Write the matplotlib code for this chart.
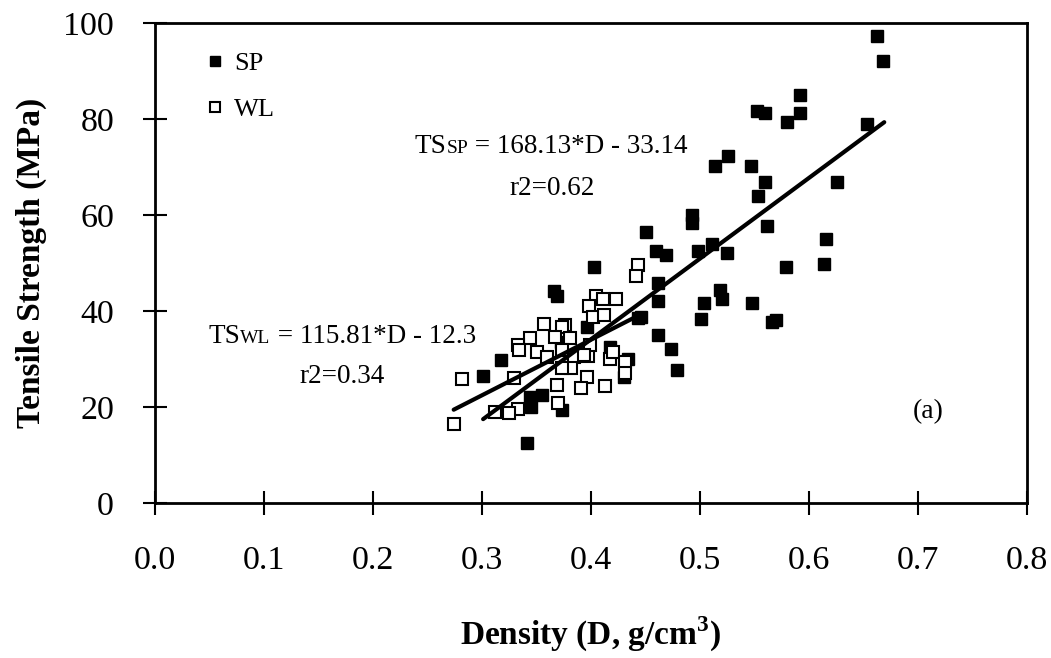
import numpy as np
import matplotlib
matplotlib.use('Agg')
import matplotlib.pyplot as plt

# Times-like font
plt.rcParams['font.family'] = 'Liberation Serif'
plt.rcParams['mathtext.fontset'] = 'custom'
plt.rcParams['mathtext.rm'] = 'Liberation Serif'
plt.rcParams['mathtext.bf'] = 'Liberation Serif:bold'

# data
sp_density = [0.662, 0.668, 0.592, 0.552, 0.560, 0.592, 0.580, 0.653, 0.526, 0.514,
              0.547, 0.560, 0.626, 0.553, 0.493, 0.493, 0.561, 0.450, 0.616, 0.511,
              0.460, 0.469, 0.498, 0.525, 0.403, 0.579, 0.614, 0.461, 0.518, 0.520,
              0.504, 0.548, 0.461, 0.501, 0.566, 0.570, 0.443, 0.446, 0.396, 0.461,
              0.473, 0.479, 0.417, 0.434, 0.430, 0.366, 0.369, 0.317, 0.301, 0.344,
              0.345, 0.355, 0.373, 0.341, 0.372]
sp_strength = [97.4, 92.1, 85.0, 81.7, 81.2, 81.2, 79.3, 78.9, 72.2, 70.3,
               70.3, 66.8, 66.8, 64.0, 60.0, 58.3, 57.8, 56.4, 54.9, 54.0,
               52.6, 51.7, 52.6, 52.0, 49.2, 49.2, 49.7, 45.9, 44.4, 42.4,
               41.6, 41.6, 42.1, 38.3, 37.8, 38.1, 38.6, 38.8, 36.6, 35.0,
               32.0, 27.7, 32.6, 30.1, 26.3, 44.2, 43.1, 29.8, 26.5, 22.1,
               20.1, 22.5, 19.4, 12.4, 33.5]

wl_density = [0.443, 0.441, 0.405, 0.411, 0.423, 0.398, 0.402, 0.412, 0.397, 0.417,
              0.420, 0.431, 0.431, 0.396, 0.413, 0.391, 0.399, 0.357, 0.376, 0.373,
              0.344, 0.333, 0.334, 0.350, 0.367, 0.381, 0.373, 0.360, 0.384, 0.394,
              0.382, 0.373, 0.329, 0.369, 0.370, 0.333, 0.325, 0.312, 0.282, 0.274]
wl_strength = [49.6, 47.3, 43.1, 42.5, 42.5, 41.1, 38.7, 39.2, 30.6, 30.1,
               31.5, 29.4, 27.1, 26.3, 24.4, 23.9, 32.9, 37.3, 37.1, 36.6,
               34.3, 32.9, 31.9, 31.5, 34.6, 34.3, 31.9, 30.4, 30.4, 30.8,
               28.1, 28.1, 26.0, 24.6, 20.8, 19.5, 18.7, 19.0, 25.8, 16.5]

# regression coefficients (slope, intercept) and fitted range
sp_fit = (168.13, -33.14)
wl_fit = (115.81, -12.3)
sp_range = (0.301, 0.669)
wl_range = (0.274, 0.443)

fig = plt.figure(figsize=(10.51, 6.58), dpi=100)
ax = fig.add_axes([0.1475, 0.2356, 0.8297, 0.7294])

ax.plot(sp_density, sp_strength, linestyle='none', marker='s', ms=9,
        mfc='black', mec='black', label='SP', zorder=3)
ax.plot(wl_density, wl_strength, linestyle='none', marker='s', ms=8.5,
        mfc='white', mec='black', mew=1.5, label='WL', zorder=3)

for (a, b), (x0, x1) in [(sp_fit, sp_range), (wl_fit, wl_range)]:
    xs = np.array([x0, x1])
    ax.plot(xs, a * xs + b, color='black', lw=3, solid_capstyle='round', zorder=4)

ax.set_xlim(0, 0.8)
ax.set_ylim(0, 100)
ax.set_xticks(np.arange(0, 0.81, 0.1))
ax.set_xticklabels(['%.1f' % v for v in np.arange(0, 0.81, 0.1)])
ax.set_yticks(np.arange(0, 101, 20))
ax.tick_params(direction='inout', length=17, width=1.5, labelsize=24.5)
ax.tick_params(axis='x', pad=22)
ax.tick_params(axis='y', pad=21)
for s in ax.spines.values():
    s.set_linewidth(2)

ax.set_xlabel(r'Density (D, g/cm$^\mathbf{3}$)', fontsize=24, fontweight='bold', labelpad=28)
ax.set_ylabel('Tensile Strength (MPa)', fontsize=24, fontweight='bold', labelpad=12)

leg = ax.legend(loc='upper left', bbox_to_anchor=(0.033, 0.99), frameon=False,
                fontsize=19, handlelength=0.6, handletextpad=0.4, labelspacing=0.85,
                markerscale=0.85)

# equation labels with small "subscript" on the baseline
def eq_label(x, y, name, rest, size=19.5):
    t = ax.text(x, y, 'TS', fontsize=size, va='baseline', ha='left')
    fig.canvas.draw()
    r = fig.canvas.get_renderer()
    yb = ax.transData.transform((x, y))[1]
    bb = t.get_window_extent(r)
    t2 = ax.annotate(name, xy=(bb.x1, yb), xycoords='figure pixels',
                     fontsize=size * 0.72, va='baseline', ha='left')
    fig.canvas.draw()
    bb2 = t2.get_window_extent(r)
    ax.annotate(rest, xy=(bb2.x1, yb), xycoords='figure pixels',
                fontsize=size, va='baseline', ha='left')

eq_label(0.2385, 72.9, 'SP', ' = 168.13*D - 33.14')
ax.text(0.364, 64.2, 'r2=0.62', fontsize=19.5, va='baseline', ha='center')
eq_label(0.049, 33.3, 'WL', ' = 115.81*D - 12.3')
ax.text(0.1716, 25.0, 'r2=0.34', fontsize=19.5, va='baseline', ha='center')
ax.text(0.709, 19.0, '(a)', fontsize=20, va='center', ha='center')

plt.savefig('out.png', dpi=100)
